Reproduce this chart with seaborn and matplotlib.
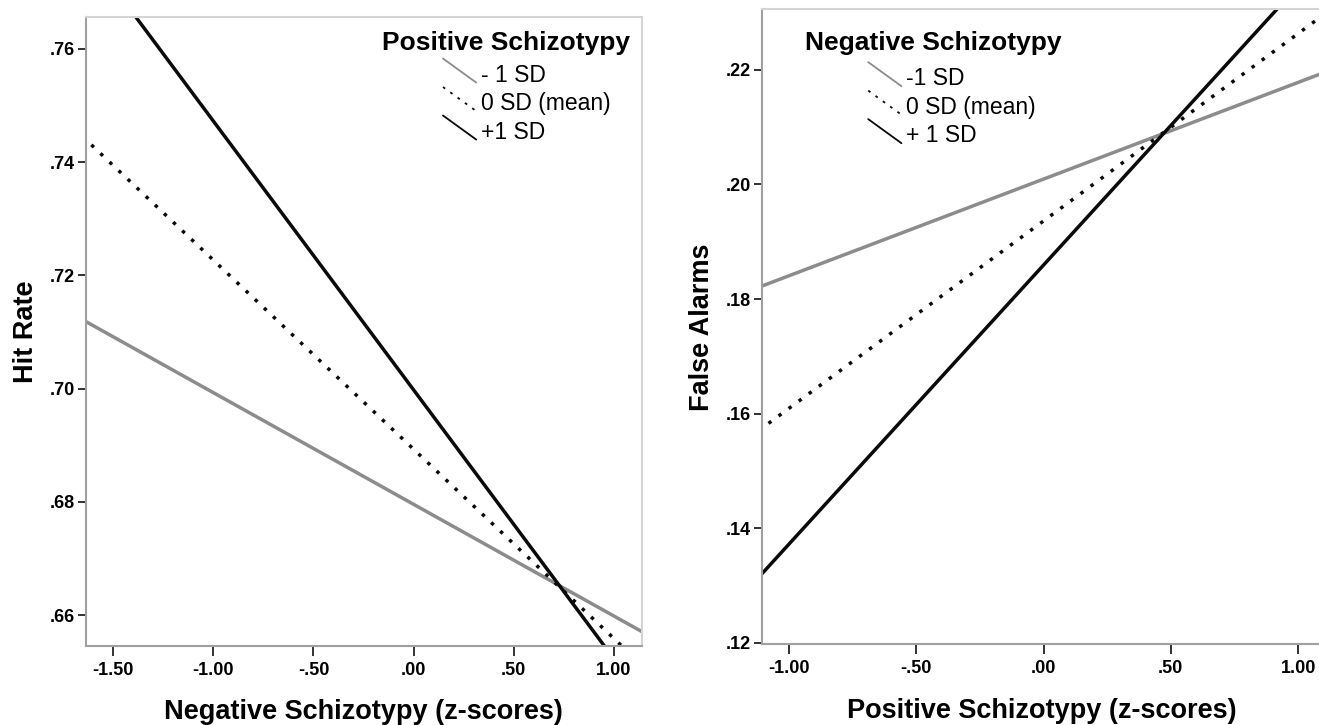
import numpy as np
import pandas as pd
import seaborn as sns
import matplotlib.pyplot as plt
from matplotlib.legend_handler import HandlerBase
from matplotlib.lines import Line2D

# simple slopes (two points per line, just beyond the axis limits)
groups = ['-1 SD', '0 SD (mean)', '+1 SD']

hit_x = [-1.7, 1.2]
hit_gray = [0.7131, 0.6559]
hit_dot = [0.7461, 0.6492]
hit_black = [0.7805, 0.6428]

fa_x = [-1.2, 1.2]
fa_gray = [0.1807, 0.2212]
fa_dot = [0.1544, 0.2329]
fa_black = [0.1275, 0.2444]

left_xticks = [-1.5, -1.0, -0.5, 0.0, 0.5, 1.0]
left_xlabels = ['-1.50', '-1.00', '-.50', '.00', '.50', '1.00']
left_yticks = [0.66, 0.68, 0.70, 0.72, 0.74, 0.76]
left_ylabels = ['.66', '.68', '.70', '.72', '.74', '.76']

right_xticks = [-1.0, -0.5, 0.0, 0.5, 1.0]
right_xlabels = ['-1.00', '-.50', '.00', '.50', '1.00']
right_yticks = [0.12, 0.14, 0.16, 0.18, 0.20, 0.22]
right_ylabels = ['.12', '.14', '.16', '.18', '.20', '.22']

left_legend_labels = ['- 1 SD', '0 SD (mean)', '+1 SD']
right_legend_labels = ['-1 SD', '0 SD (mean)', '+ 1 SD']


def long_df(x, series):
    rows = []
    for g, ys in zip(groups, series):
        for xv, yv in zip(x, ys):
            rows.append({'x': xv, 'y': yv, 'group': g})
    return pd.DataFrame(rows)


df_hit = long_df(hit_x, [hit_gray, hit_dot, hit_black])
df_fa = long_df(fa_x, [fa_gray, fa_dot, fa_black])

sns.set_style('white', {'text.color': 'black', 'axes.labelcolor': 'black',
                        'xtick.color': 'black', 'ytick.color': 'black'})
plt.rcParams['font.family'] = ['Liberation Sans', 'DejaVu Sans']

palette = {'-1 SD': '#8c8c8c', '0 SD (mean)': '#0a0a0a', '+1 SD': '#0a0a0a'}
dashes = {'-1 SD': '', '0 SD (mean)': (1, 2.6), '+1 SD': ''}


# SPSS style diagonal legend keys
class DiagonalHandler(HandlerBase):
    def create_artists(self, legend, orig_handle, xdescent, ydescent,
                       width, height, fontsize, trans):
        ln = Line2D([-xdescent, -xdescent + width],
                    [-ydescent + height * 1.45, -ydescent - height * 0.05])
        ln.update_from(orig_handle)
        ln.set_linewidth(1.3)
        if orig_handle.get_linestyle() not in ('-', 'solid'):
            ln.set_dashes((1.5, 3.5))
        ln.set_transform(trans)
        return [ln]


fig = plt.figure(figsize=(13.19, 7.25), dpi=100)
ax1 = fig.add_axes([0.0652, 0.1094, 0.4213, 0.8668])
ax2 = fig.add_axes([0.5775, 0.1113, 0.4240, 0.8759])


def style_axes(ax, xticks, xlabels, yticks, ylabels):
    ax.set_xticks(xticks)
    ax.set_xticklabels(xlabels, fontsize=13, fontweight='bold')
    ax.set_yticks(yticks)
    ax.set_yticklabels(ylabels, fontsize=13, fontweight='bold')
    ax.tick_params(axis='x', direction='out', length=7, width=1.3,
                   color='#222222', bottom=True, pad=4.5)
    ax.tick_params(axis='y', direction='out', length=5.8, width=1.3,
                   color='#222222', left=True, pad=2)
    for side in ['left', 'bottom']:
        ax.spines[side].set_color('#a0a0a0')
        ax.spines[side].set_linewidth(1.5)
    for side in ['top', 'right']:
        ax.spines[side].set_color('#d4d4d4')
        ax.spines[side].set_linewidth(1.5)


for ax, df in [(ax1, df_hit), (ax2, df_fa)]:
    sns.lineplot(data=df, x='x', y='y', hue='group', style='group',
                 palette=palette, dashes=dashes, linewidth=2.5,
                 legend=False, ax=ax)

ax1.set_xlim(-1.636, 1.139)
ax1.set_ylim(0.6546, 0.7656)
style_axes(ax1, left_xticks, left_xlabels, left_yticks, left_ylabels)
ax1.set_xlabel('Negative Schizotypy (z-scores)', fontsize=19.5, fontweight='bold', labelpad=15)
ax1.set_ylabel('Hit Rate', fontsize=19.5, fontweight='bold', labelpad=8)

ax2.set_xlim(-1.108, 1.09)
ax2.set_ylim(0.1197, 0.2306)
style_axes(ax2, right_xticks, right_xlabels, right_yticks, right_ylabels)
ax2.set_xlabel('Positive Schizotypy (z-scores)', fontsize=19.5, fontweight='bold', labelpad=15)
ax2.set_ylabel('False Alarms', fontsize=19.5, fontweight='bold', labelpad=8)

# legend titles as separate bold text, entries as a frameless legend below
ax1.text(0.979, 0.948, 'Positive Schizotypy', transform=ax1.transAxes,
         ha='right', va='baseline', fontsize=19, fontweight='bold')
ax2.text(0.0776, 0.936, 'Negative Schizotypy', transform=ax2.transAxes,
         ha='left', va='baseline', fontsize=19, fontweight='bold')

for ax, labels, anchor in [(ax1, left_legend_labels, (0.6424, 0.926)),
                           (ax2, right_legend_labels, (0.1904, 0.9085))]:
    handles = ax.get_lines()[:3]
    ax.legend(handles, labels, loc='upper left', bbox_to_anchor=anchor,
              frameon=False, fontsize=16.5, handlelength=1.45, handletextpad=0.2,
              labelspacing=0.24, borderpad=0, borderaxespad=0,
              handler_map={Line2D: DiagonalHandler()})

fig.savefig('out.png', dpi=100)
